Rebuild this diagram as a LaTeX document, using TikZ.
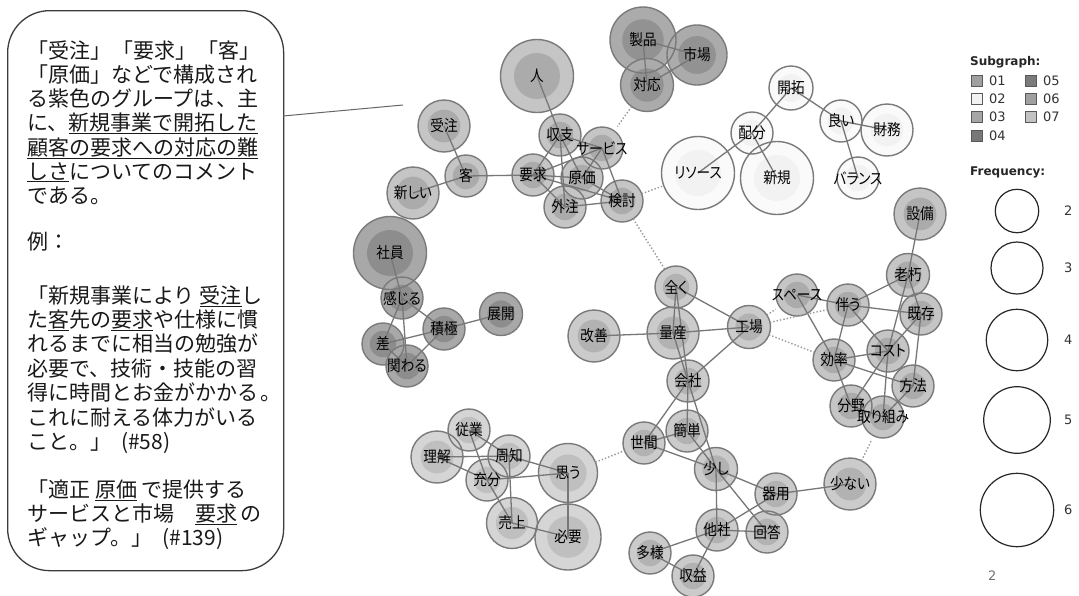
\documentclass[tikz,border=0pt]{standalone}
\usepackage{fontspec}
\setmainfont{Noto Sans CJK JP}
\newfontfamily\wordfont[RawFeature=+palt,FakeStretch=0.88]{Noto Sans CJK JP}
\newfontfamily\legendfont{DejaVu Sans}

\pgfdeclarelayer{discs}
\pgfdeclarelayer{rings}
\pgfdeclarelayer{links}
\pgfsetlayers{discs,rings,links,main}

% palettes: outer ring / inner disc
\definecolor{Aout}{HTML}{C5C5C5}\definecolor{Ain}{HTML}{ABABAB}
\definecolor{Wout}{HTML}{FAFAFA}\definecolor{Win}{HTML}{F2F2F2}
\definecolor{Dout}{HTML}{A8A8A8}\definecolor{Din}{HTML}{8D8D8D}
\definecolor{Pout}{HTML}{ABABAB}\definecolor{Pin}{HTML}{929292}
\definecolor{Cout}{HTML}{CBCBCB}\definecolor{Cin}{HTML}{B2B2B2}
\definecolor{Lout}{HTML}{D5D5D5}\definecolor{Lin}{HTML}{BFBFBF}
\definecolor{ringgray}{HTML}{7A7A7A}
\definecolor{linkgray}{HTML}{777777}
\definecolor{boxgray}{HTML}{3C3C3C}
% legend swatches
\definecolor{S01}{HTML}{A0A0A0}\definecolor{S02}{HTML}{F2F2F2}
\definecolor{S03}{HTML}{A6A6A6}\definecolor{S04}{HTML}{787878}
\definecolor{S05}{HTML}{7B7B7B}\definecolor{S06}{HTML}{A0A0A0}
\definecolor{S07}{HTML}{C2C2C2}

\tikzset{
  word/.style={circle, inner sep=0pt, outer sep=0pt, text=black,
    font=\wordfont\fontsize{15.5}{17}\selectfont},
  ring/.style={draw=ringgray, line width=1.4pt},
  link/.style={draw=linkgray, line width=1.3pt},
  weak/.style={draw=gray!80, line width=1.4pt, dotted},
  cmt/.style={anchor=base west, inner sep=0pt, text=black!90,
    font=\fontsize{21}{24}\selectfont},
  legtitle/.style={anchor=west, inner sep=0pt, text=black!85,
    font=\legendfont\bfseries\fontsize{12}{14}\selectfont},
  legnum/.style={anchor=west, inner sep=0pt, text=black!80,
    font=\legendfont\fontsize{13}{15}\selectfont},
  legsq/.style={draw=black!65, line width=0.8pt, minimum size=11pt, inner sep=0pt},
  freqring/.style={circle, draw=black!85, line width=1.2pt, inner sep=0pt}
}

% #1 name, #2 x, #3 y, #4 radius, #5 palette, #6 label
\newcommand\wnode[6]{%
  \begin{pgfonlayer}{discs}
    \fill[#5out] (#2,#3) circle[radius=#4pt];
    \fill[#5in] (#2,#3) circle[radius=0.63*#4pt];
  \end{pgfonlayer}
  \begin{pgfonlayer}{rings}
    \draw[ring] (#2,#3) circle[radius=#4pt];
  \end{pgfonlayer}
  \node[word, minimum size=2*#4pt] (#1) at (#2,#3) {#6};
}

\begin{document}
\begin{tikzpicture}[x=1pt, y=-1pt]
\begin{pgfonlayer}{discs}
  \fill[white] (0,0) rectangle (1079,595);
\end{pgfonlayer}
\useasboundingbox (0,0) rectangle (1079,595);

% ---------- comment box ----------
\node[draw=boxgray, line width=1.3pt, rounded corners=42pt, minimum width=276pt,
      minimum height=560pt, anchor=north west, inner sep=0pt] (box) at (7,10) {};
\coordinate (cstart) at (283,116);
\coordinate (ctip) at (403,105);
\draw[black!60, line width=1pt] (cstart) -- (ctip);

\node[cmt] (t1)  at (27,58)  {「受注」\hspace{1pt}「要求」\hspace{1pt}「客」};
\node[cmt] (t2)  at (27,82)  {「原価」などで構成され};
\node[cmt] (t3)  at (27,106) {る紫色のグループは\hspace{2pt}、主};
\node[cmt] (t4)  at (27,130) {に、\underline{新規事業で開拓した}};
\node[cmt] (t5)  at (27,155) {\underline{顧客の要求への対応の難}};
\node[cmt] (t6)  at (27,179) {\underline{しさ}についてのコメント};
\node[cmt] (t7)  at (27,203) {である。};
\node[cmt] (t8)  at (27,249) {例：};
\node[cmt] (t9)  at (27,303) {「新規事業により\hspace{5pt}\underline{受注}し};
\node[cmt] (t10) at (27,327) {た\underline{客}先の\underline{要求}や仕様に慣};
\node[cmt] (t11) at (27,351) {れるまでに相当の勉強が};
\node[cmt] (t12) at (27,376) {必要で、技術・技能の習};
\node[cmt] (t13) at (27,400) {得に時間とお金がかかる\hspace{2pt}。};
\node[cmt] (t14) at (27,425) {これに耐える体力がいる};
\node[cmt] (t15) at (27,449) {こと。」\hspace{10pt}(\#58)};
\node[cmt] (t16) at (27,497) {「適正\hspace{5pt}\underline{原価}\hspace{4pt}で提供する};
\node[cmt] (t17) at (27,521) {サービスと市場\hspace{21pt}\underline{要求}\hspace{3pt}の};
\node[cmt] (t18) at (27,545) {ギャップ。」\hspace{10pt}(\#139)};

% ---------- word nodes ----------
% customers / requests
\wnode{ju}{444}{126}{26}{A}{受注}
\wnode{kyaku}{466}{176}{21}{A}{客}
\wnode{atarashii}{413}{193}{26}{A}{新しい}
\wnode{hito}{537}{76}{36.5}{A}{人}
\wnode{shushi}{560}{135}{21}{A}{収支}
\wnode{service}{602}{148}{21}{A}{サービス}
\wnode{yokyu}{533}{175}{21}{A}{要求}
\wnode{genka}{582}{178}{21}{A}{原価}
\wnode{gaichu}{565}{207}{21}{A}{外注}
\wnode{kento}{622}{201}{21}{A}{検討}
% products
\wnode{seihin}{643}{40}{33}{P}{製品}
\wnode{shijo}{697}{55}{30}{P}{市場}
\wnode{taio}{647}{85}{26.5}{P}{対応}
% resources
\wnode{kaitaku}{791}{88}{22}{W}{開拓}
\wnode{yoi}{841}{121}{21}{W}{良い}
\wnode{zaimu}{887}{130}{26}{W}{財務}
\wnode{haibun}{752}{133}{21}{W}{配分}
\wnode{resource}{698}{173}{36.5}{W}{リソース}
\wnode{shinki}{777}{178}{36.5}{W}{新規}
\wnode{balance}{858}{178}{21}{W}{バランス}
% equipment and cost
\wnode{setsubi}{920}{214}{26}{A}{設備}
\wnode{rokyu}{908}{275}{21.5}{A}{老朽}
\wnode{space}{797}{295}{21}{A}{スペース}
\wnode{tomonau}{848}{305}{21}{A}{伴う}
\wnode{kizon}{921}{314}{21}{A}{既存}
\wnode{koritsu}{834}{360}{21}{A}{効率}
\wnode{cost}{888}{351}{21}{A}{コスト}
\wnode{hoho}{913}{386}{21}{A}{方法}
\wnode{bunya}{851}{406}{21}{A}{分野}
\wnode{torikumi}{883}{417}{21}{A}{取り組み}
% staff
\wnode{shain}{390}{253}{36.5}{D}{社員}
\wnode{kanjiru}{402}{298}{21}{D}{感じる}
\wnode{sekkyoku}{444}{329}{21}{D}{積極}
\wnode{tenkai}{501}{314}{21.5}{D}{展開}
\wnode{sa}{383}{344}{21}{D}{差}
\wnode{kakawaru}{407}{366}{21}{D}{関わる}
% production and other companies
\wnode{mattaku}{676}{287}{21}{C}{全く}
\wnode{ryosan}{673}{333}{26}{C}{量産}
\wnode{kaizen}{594}{336}{26}{C}{改善}
\wnode{kojo}{749}{327}{21.5}{C}{工場}
\wnode{kaisha}{688}{381}{21}{C}{会社}
\wnode{seken}{644}{443}{21}{C}{世間}
\wnode{kantan}{687}{431}{21}{C}{簡単}
\wnode{sukoshi}{716}{469}{21.5}{C}{少し}
\wnode{kiyo}{776}{494}{21}{C}{器用}
\wnode{sukunai}{850}{484}{26}{C}{少ない}
\wnode{tasha}{717}{530}{21}{C}{他社}
\wnode{kaito}{767}{532}{21}{C}{回答}
\wnode{tayo}{650}{553}{21}{C}{多様}
\wnode{shueki}{693}{576}{21}{C}{収益}
% understanding and sales
\wnode{jugyo}{469}{430}{21}{L}{従業}
\wnode{rikai}{437}{457}{26}{L}{理解}
\wnode{shuchi}{509}{456}{21}{L}{周知}
\wnode{jubun}{487}{480}{21}{L}{充分}
\wnode{omou}{568}{473}{29.5}{L}{思う}
\wnode{uriage}{512}{523}{25.5}{L}{売上}
\wnode{hitsuyo}{568}{537}{33}{L}{必要}

% ---------- connectors ----------
\begin{pgfonlayer}{links}
\foreach \a/\b in {ju/kyaku, atarashii/kyaku, kyaku/yokyu, hito/shushi,
  shushi/yokyu, shushi/genka, shushi/service, shushi/gaichu, yokyu/service,
  yokyu/genka, yokyu/gaichu, yokyu/kento, genka/kento, genka/service,
  service/kento, gaichu/kento,
  seihin/shijo, seihin/taio, taio/shijo,
  kaitaku/haibun, kaitaku/yoi, yoi/zaimu, yoi/balance, haibun/resource, haibun/shinki,
  setsubi/rokyu, rokyu/tomonau, rokyu/kizon, rokyu/cost, space/tomonau,
  space/koritsu, tomonau/kizon, tomonau/koritsu, tomonau/cost, kizon/cost,
  kizon/hoho, koritsu/cost, koritsu/hoho, koritsu/bunya, cost/bunya,
  cost/torikumi, hoho/torikumi, bunya/torikumi,
  mattaku/ryosan, mattaku/kaisha, mattaku/kojo, ryosan/kojo, ryosan/kaisha,
  kaizen/ryosan, kojo/kaisha, kaisha/seken, kaisha/kantan, kaisha/sukoshi,
  seken/kantan, seken/sukoshi, kantan/sukoshi, sukoshi/kiyo, sukoshi/tasha,
  sukoshi/kaito, kiyo/tasha, kiyo/sukunai, tasha/kaito, tasha/tayo,
  tasha/shueki, tayo/shueki,
  shain/kanjiru, kanjiru/sekkyoku, kanjiru/sa, kanjiru/kakawaru,
  sekkyoku/tenkai, sekkyoku/sa, sekkyoku/kakawaru, sa/kakawaru,
  jugyo/shuchi, jugyo/jubun, rikai/shuchi, rikai/jubun, shuchi/omou,
  shuchi/uriage, jubun/omou, jubun/uriage, omou/hitsuyo, uriage/hitsuyo}
  \draw[link] (\a.center) -- (\b.center);
\foreach \a/\b in {taio/service, kento/resource, kento/mattaku, kojo/space,
  kojo/tomonau, kojo/koritsu, omou/seken, torikumi/sukunai}
  \draw[weak] (\a) -- (\b);
\end{pgfonlayer}

% ---------- legend ----------
\node[legtitle] (subgraph) at (970,62) {Subgraph:};
\foreach \n/\x/\y in {01/977/81, 02/977/99, 03/977/117, 04/977/136,
                      05/1031/81, 06/1031/99, 07/1031/117}{
  \node[legsq, fill=S\n] (sq\n) at (\x,\y) {};
  \node[legnum] (ln\n) at (\x+12,\y) {\n};
}
\node[legtitle] (frequency) at (970,172) {Frequency:};
\foreach \v/\y/\r in {2/211/21.7, 3/268/26, 4/340/30.7, 5/420/33.3, 6/510/36.7}{
  \node[freqring, minimum size=2*\r*1pt] (fr\v) at (1017,\y) {};
  \node[legnum] (fl\v) at (1064,\y) {\v};
}
\node[legnum, text=black!55] (page) at (988,576) {2};
\end{tikzpicture}
\end{document}
